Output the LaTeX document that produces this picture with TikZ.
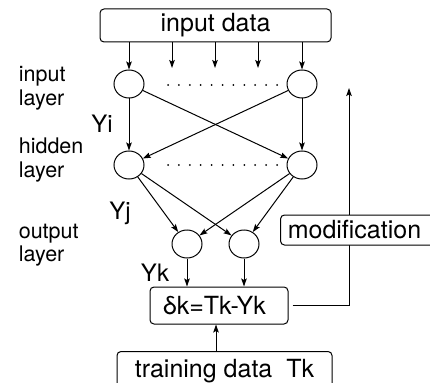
\documentclass[tikz,border=0pt]{standalone}
\usepackage{fontspec}
\setmainfont{TeX Gyre Heros}
\usepackage{tikz}
\usetikzlibrary{arrows.meta}
\usetikzlibrary{shapes.geometric}

\begin{document}
\begin{tikzpicture}[x=1pt,y=-1pt,
        line width=1pt,
        >={Stealth[length=8pt,width=5.5pt,inset=1.5pt]},
        box/.style={draw,rounded corners=4pt,fill=white,inner sep=0pt,font=\fontsize{25}{28}\selectfont},
        neuron/.style={draw,ellipse,minimum width=30pt,minimum height=28pt,inner sep=0pt},
        layername/.style={anchor=west,align=left,font=\fontsize{21.5}{23.5}\selectfont},
        yname/.style={font=\fontsize{24}{26}\selectfont},
    ]
    \useasboundingbox (0,0) rectangle (430,382);
    \clip (0,0) rectangle (430,382);
    % boxes
    \node[box,minimum width=231pt,minimum height=33pt] (indata) at (215.5,25.5) {input data};
    \node[box,minimum width=138pt,minimum height=37pt] (delta) at (219,305.5) {\hspace*{-9pt}δk=Tk-Yk};
    \node[box,minimum width=215pt,minimum height=40pt,anchor=north] (train) at (224.5,351) {training data\ \ Tk};
    % neurons
    \node[neuron] (in1) at (129,84) {};
    \node[neuron] (in2) at (302,84) {};
    \node[neuron] (hid1) at (129,165) {};
    \node[neuron] (hid2) at (302,165) {};
    \node[neuron] (out1) at (187,244) {};
    \node[neuron] (out2) at (244,244) {};
    \foreach \y in {85,165}
        \foreach \x in {0,...,10}
            \fill (168+\x*10.9,\y) circle (1pt);
    % labels
    \node[layername] (lin) at (15,88) {input\\layer};
    \node[layername] (lhid) at (15,160) {hidden\\layer};
    \node[layername] (lout) at (15,245) {output\\layer};
    \node[yname] (yi) at (102,124) {Yi};
    \node[yname] (yj) at (120,213) {Yj};
    \node[yname] (yk) at (155,273) {Yk};
    % input data to input layer
    \draw[->] (indata.south -| in1) -- (in1);
    \draw[->] (indata.south -| in2) -- (in2);
    \foreach \x in {172,215,258}
        \draw[->] (indata.south -| \x,0) -- (\x,68);
    % input layer to hidden layer
    \draw[->] (in1) -- (hid1);
    \draw[->] (in2) -- (hid2);
    \draw[->] (in1) -- (hid2);
    \draw[->] (in2) -- (hid1);
    % hidden layer to output layer
    \draw[->] (hid1) -- (out1);
    \draw[->] (hid1) -- (out2);
    \draw[->] (hid2) -- (out1);
    \draw[->] (hid2) -- (out2);
    % output layer to delta
    \draw[->] (out1) -- (delta.north -| out1);
    \draw[->] (out2) -- (delta.north -| out2);
    \draw[->] (train.north -| 216,0) -- (delta.south -| 216,0);
    % feedback, the modification box sits on top of it
    \coordinate (fb) at (349,88);
    \draw[->] ([xshift=4pt]delta.east) -- (delta.east -| fb) -- (fb);
    \node[box,minimum width=162pt,minimum height=30pt,anchor=west] (modif) at (280,230) {\hspace*{-14pt}modification};
\end{tikzpicture}
\end{document}
